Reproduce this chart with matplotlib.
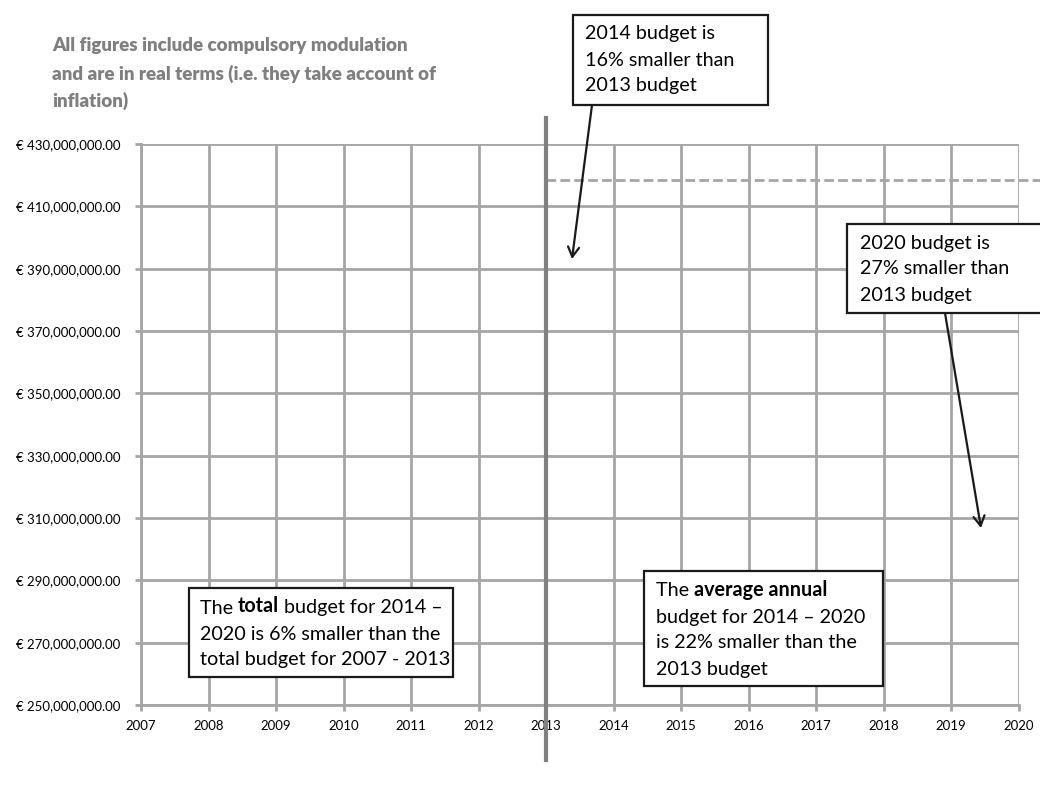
import matplotlib
matplotlib.use("Agg")
import matplotlib.pyplot as plt
from matplotlib.patches import Rectangle, FancyArrowPatch

plt.rcParams['font.family'] = ['Lato', 'DejaVu Sans']

# Axis categories and value ticks
years = list(range(2007, 2021))
y_ticks = list(range(250_000_000, 430_000_001, 20_000_000))
y_tick_labels = [f"€ {v:,.2f}" for v in y_ticks]

# Reference level: the 2013 budget, carried across the 2014-2020 period
budget_2013 = 418_500_000
split_year = 2013

title_lines = ["All figures include compulsory modulation",
               "and are in real terms (i.e. they take account of",
               "inflation)"]

GRID = '#a6a6a6'
W, H = 1040, 789
fig = plt.figure(figsize=(W / 100, H / 100), dpi=100)

def px(x, y):
    return x / W, 1 - y / H

x0, y0 = px(141, 705)
x1, y1 = px(1018.5, 144)
ax = fig.add_axes([x0, y0, x1 - x0, y1 - y0])
ax.set_xlim(years[0], years[-1])
ax.set_ylim(y_ticks[0], y_ticks[-1])
ax.set_xticks(years)
ax.set_xticklabels([str(y) for y in years], fontsize=9.5)
ax.set_yticks(y_ticks)
ax.set_yticklabels(y_tick_labels, fontsize=9.5)
ax.grid(True, color=GRID, linewidth=2)
ax.set_axisbelow(True)
for side in ('top', 'right'):
    ax.spines[side].set_visible(False)
for side in ('left', 'bottom'):
    ax.spines[side].set_color(GRID)
    ax.spines[side].set_linewidth(2)
ax.tick_params(axis='both', color=GRID, width=2, length=4)
ax.tick_params(axis='y', pad=11)
ax.tick_params(axis='x', pad=7)

# Divider between the two programming periods
ax.plot([split_year, split_year], [232_400_000, 438_300_000], color='#808080',
        linewidth=3, clip_on=False, zorder=4)
# 2013 budget level over the new period
ax.plot([split_year, 2020.32], [budget_2013, budget_2013], color=GRID,
        linewidth=2, linestyle=(0, (3.5, 1.5)), clip_on=False, zorder=3)

# Title note
for i, line in enumerate(title_lines):
    fig.text(*px(52, 46 + i * 27.5), line, fontsize=13.5, fontweight='heavy',
             color='#7f7f7f', va='center', ha='left')

TXT = 14.2

def box(left, top, right, bottom):
    l, b = px(left, bottom)
    r, t = px(right, top)
    fig.add_artist(Rectangle((l, b), r - l, t - b, transform=fig.transFigure,
                             facecolor='white', edgecolor='#1a1a1a',
                             linewidth=1.6, zorder=5, clip_on=False))

def rich_line(x, y, parts):
    prev = None
    for text, bold in parts:
        kw = dict(fontsize=TXT, fontweight='bold' if bold else 'normal',
                  color='black', zorder=6)
        if prev is None:
            prev = fig.text(*px(x, y), text, va='center', ha='left', **kw)
        else:
            prev = fig.add_artist(plt.Annotation(
                text, xy=(1, 0), xycoords=prev, va='bottom', ha='left', **kw))

def textbox(left, top, right, bottom, rows, tx, ty, step=26):
    box(left, top, right, bottom)
    for i, parts in enumerate(rows):
        rich_line(tx, ty + i * step, parts)

def arrow(start, end):
    fig.add_artist(FancyArrowPatch(px(*start), px(*end),
                                   transform=fig.transFigure,
                                   arrowstyle='->,head_length=7,head_width=4',
                                   color='#1a1a1a', linewidth=1.6, zorder=5,
                                   shrinkA=0, shrinkB=0))

textbox(573, 15, 768, 105,
        [[("2014 budget is", False)], [("16% smaller than", False)],
         [("2013 budget", False)]], 585, 34)
arrow((592, 105), (572, 259))

textbox(847, 224, 1060, 313,
        [[("2020 budget is", False)], [("27% smaller than", False)],
         [("2013 budget", False)]], 860, 243)
arrow((945, 313), (981, 528))

textbox(189, 588, 453, 677,
        [[("The ", False), ("total", True), (" budget for 2014 –", False)],
         [("2020 is 6% smaller than the", False)],
         [("total budget for 2007 - 2013", False)]], 200, 608)

textbox(644, 571, 883, 686,
        [[("The ", False), ("average annual", True)],
         [("budget for 2014 – 2020", False)],
         [("is 22% smaller than the", False)],
         [("2013 budget", False)]], 656, 591)

fig.savefig("out.png", dpi=100)
